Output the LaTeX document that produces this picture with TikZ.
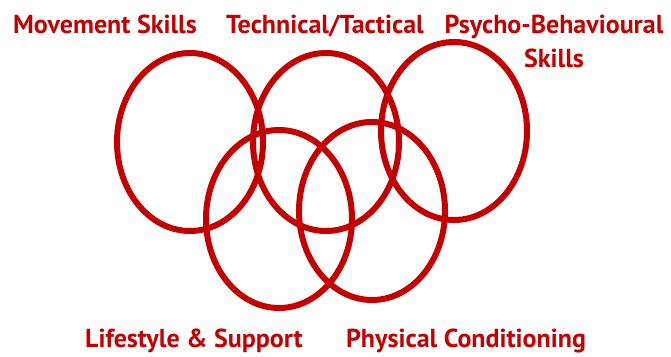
\documentclass[tikz,border=0pt]{standalone}
\usepackage{fontspec}
\setmainfont{PT Sans}
\usetikzlibrary{shapes.geometric}

\definecolor{ringred}{RGB}{196,0,0}

\begin{document}
\begin{tikzpicture}[x=1pt,y=-1pt,
	ring/.style={ellipse,draw=ringred,line width=6pt,inner sep=0pt,minimum width=146pt,minimum height=178pt},
	label/.style={text=ringred,font=\bfseries\fontsize{26}{34}\selectfont,inner sep=0pt,anchor=base,align=center}]

	\useasboundingbox (0,0) rectangle (671,356);

	\node[ring] (movement) at (190,142) {};
	\node[ring] (technical) at (326,142) {};
	\node[ring] (psycho) at (454,131) {};
	\node[ring] (lifestyle) at (279,219) {};
	\node[ring] (physical) at (372,211) {};

	\node[label] (movementlabel) at (105,33) {Movement Skills};
	\node[label] (technicallabel) at (325,33) {Technical/Tactical};
	\node[label] (psycholabel) at (554,67) {Psycho-Behavioural\\Skills};
	\node[label] (lifestylelabel) at (194,347) {Lifestyle \& Support};
	\node[label] (physicallabel) at (466,347) {Physical Conditioning};

\end{tikzpicture}
\end{document}
